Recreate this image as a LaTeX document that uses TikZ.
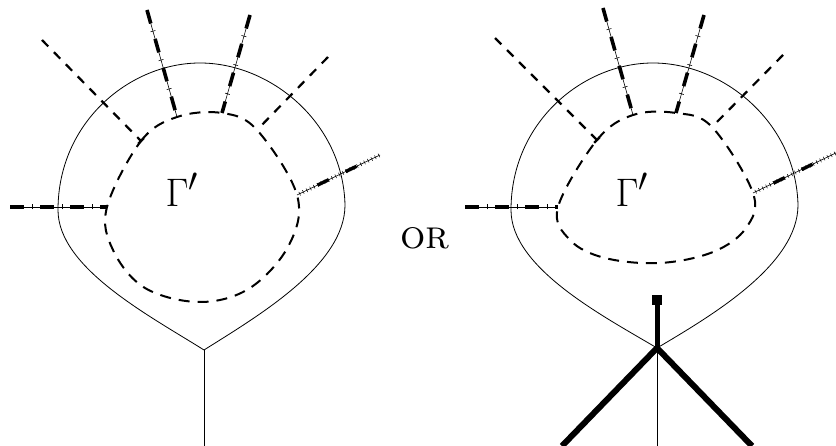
\documentclass[tikz,border=0pt]{standalone}
\usepackage{amsmath,amssymb}
\usepackage{tikz}
\usetikzlibrary{decorations.markings,calc}

\begin{document}
\begin{tikzpicture}[
  x=1pt, y=-1pt,
  loopline/.style={line width=0.8pt},
  dashloop/.style={line width=2pt, dash pattern=on 11pt off 8pt},
  dashleg/.style={line width=2.2pt, dash pattern=on 9pt off 8pt},
  endbar/.style={postaction={decorate, decoration={markings,
      mark=at position 1 with {\draw[line width=2.2pt] (0,-4pt) -- (0,4pt);}}}},
  heavyleg/.style={line width=0.6pt,
    postaction={draw, line width=3.6pt, dash pattern=on 14pt off 16pt},
    postaction={decorate, decoration={markings,
      mark=between positions 22pt and -4pt step 30pt with {\draw[line width=0.6pt] (0,-2.5pt) -- (0,2.5pt);}}}},
  tickleg/.style={line width=0.6pt,
    postaction={decorate, decoration={markings,
      mark=between positions 3pt and -1pt step 4pt with {\draw[line width=0.5pt] (0,-2pt) -- (0,2pt);}}},
    postaction={draw, line width=3.4pt, dash pattern=on 0pt off 23pt on 12pt off 19pt on 12pt off 200pt}},
  fatline/.style={line width=6pt},
  bigtext/.style={font=\Huge, scale=1.6}
]
\useasboundingbox (0,0) rectangle (836,446);

% left picture
\coordinate (vL) at (204,350);
\coordinate (bL) at (204,446);
\coordinate (a1) at (107,207);
\coordinate (a2) at (141,141);
\coordinate (a3) at (177,117);
\coordinate (a4) at (222,113);
\coordinate (a5) at (257,130);
\coordinate (a6) at (297,195);
\coordinate (e1) at (10,207);
\coordinate (e2) at (42,40);
\coordinate (e3) at (147,10);
\coordinate (e4) at (250,15);
\coordinate (e5) at (328,57);
\coordinate (e6) at (380,155);

\draw[loopline] (vL) .. controls (150,316) and (58,268) .. (58,210)
  .. controls (58,122) and (130,63) .. (200,63)
  .. controls (270,63) and (343,122) .. (345,205)
  .. controls (345,265) and (258,316) .. (vL);
\draw[loopline] (vL) -- (bL);
\draw[dashloop] plot[smooth cycle, tension=0.6] coordinates {(107,207) (141,141) (177,117) (222,113) (257,130) (297,195) (289,245) (250,288) (200,302) (145,288) (113,250)};

\draw[heavyleg] (e1) -- (a1);
\draw[heavyleg] (e3) -- (a3);
\draw[heavyleg] (e4) -- (a4);
\draw[dashleg, endbar] (e2) -- (a2);
\draw[dashleg] (e5) -- (a5);
\draw[tickleg] (a6) -- (e6);
\node[bigtext] (gL) at (182,190) {$\Gamma'$};

\node[bigtext] (or) at (425,238) {\textsc{or}};

% right picture
\coordinate (vR) at (657,348);
\coordinate (bR) at (657,446);
\coordinate (fl) at (562,446);
\coordinate (fr) at (752,446);
\coordinate (c1) at (558,207);
\coordinate (c2) at (597,140);
\coordinate (c3) at (633,115);
\coordinate (c4) at (676,113);
\coordinate (c5) at (712,127);
\coordinate (c6) at (753,193);
\coordinate (f1) at (465,207);
\coordinate (f2) at (495,38);
\coordinate (f3) at (603,8);
\coordinate (f4) at (704,15);
\coordinate (f5) at (783,55);
\coordinate (f6) at (840,151);

\draw[loopline] (vR) .. controls (603,316) and (511,268) .. (511,210)
  .. controls (511,122) and (583,63) .. (653,63)
  .. controls (723,63) and (796,122) .. (798,205)
  .. controls (798,265) and (711,316) .. (vR);
\draw[dashloop] plot[smooth cycle, tension=0.6] coordinates {(558,207) (597,140) (633,115) (676,113) (712,127) (753,193) (746,228) (713,252) (660,263) (605,258) (570,240)};

\draw[heavyleg] (f1) -- (c1);
\draw[heavyleg] (f3) -- (c3);
\draw[heavyleg] (f4) -- (c4);
\draw[dashleg, endbar] (f2) -- (c2);
\draw[dashleg] (f5) -- (c5);
\draw[tickleg] (c6) -- (f6);
\node[bigtext] (gR) at (632,190) {$\Gamma'$};

\node[fill, minimum size=10pt, inner sep=0pt] (sq) at (657,300) {};
\draw[line width=5pt] (sq) -- (vR);
\draw[fatline] (fl) -- (vR) -- (fr);
\draw[loopline] (vR) -- (bR);
\end{tikzpicture}
\end{document}
